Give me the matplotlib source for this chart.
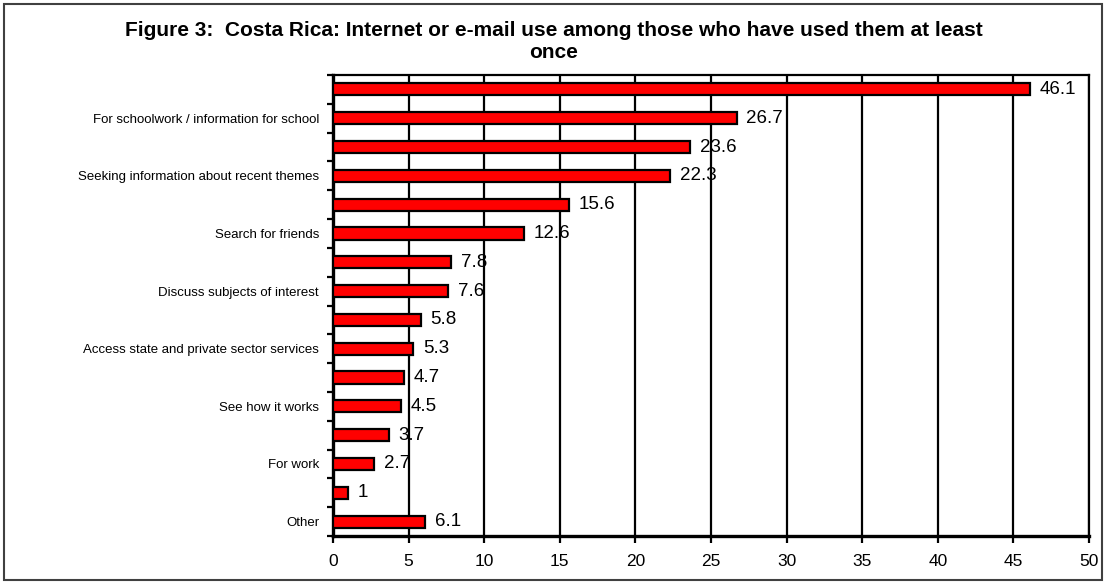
import matplotlib
matplotlib.use("Agg")
import matplotlib.pyplot as plt
from matplotlib.patches import Rectangle

# usage shares (%), top of chart first; only every other category is labelled
labels = [
    "",
    "For schoolwork / information for school",
    "",
    "Seeking information about recent themes",
    "",
    "Search for friends",
    "",
    "Discuss subjects of interest",
    "",
    "Access state and private sector services",
    "",
    "See how it works",
    "",
    "For work",
    "",
    "Other",
]
values = [46.1, 26.7, 23.6, 22.3, 15.6, 12.6, 7.8, 7.6, 5.8, 5.3, 4.7, 4.5,
          3.7, 2.7, 1, 6.1]
value_text = ["46.1", "26.7", "23.6", "22.3", "15.6", "12.6", "7.8", "7.6",
              "5.8", "5.3", "4.7", "4.5", "3.7", "2.7", "1", "6.1"]
xticks = [0, 5, 10, 15, 20, 25, 30, 35, 40, 45, 50]

TITLE = ("Figure 3:  Costa Rica: Internet or e-mail use among those who have "
         "used them at least\nonce")

plt.rcParams.update({
    "font.family": "sans-serif",
    "font.sans-serif": ["Liberation Sans", "DejaVu Sans"],
})

W, H = 1107, 584
fig = plt.figure(figsize=(W / 100, H / 100), dpi=100)
fig.patch.set_facecolor("white")

# outer border of the whole figure
fig.patches.append(Rectangle((4 / W, 4 / H), 1098 / W, 576 / H,
                             transform=fig.transFigure, fill=False,
                             edgecolor="#404040", linewidth=1.5))

# plot area in pixel terms: x 333..1089, y 75..536
ax = fig.add_axes([333 / W, (H - 536) / H, (1089 - 333) / W, (536 - 75) / H])

n = len(values)
ys = list(range(n))
ax.barh(ys, values, height=0.42, color="#ff0000", edgecolor="black",
        linewidth=1.6, zorder=3)
for y, v, t in zip(ys, values, value_text):
    ax.annotate(t, (v, y), xytext=(7, 0), textcoords="offset points",
                ha="left", va="center", fontsize=13.5, color="black", zorder=4)

ax.set_ylim(n - 0.5, -0.5)
ax.set_xlim(0, 50)
ax.set_xticks(xticks)
ax.set_xticklabels([str(t) for t in xticks], fontsize=12.5)
ax.tick_params(axis="x", length=5, width=1.6, direction="out", pad=8)
ax.set_yticks(ys)
ax.set_yticklabels(labels, fontsize=9.5)
ax.tick_params(axis="y", length=0, pad=10)

# category boundary tick marks on the value axis
ax.set_yticks([i - 0.5 for i in range(n + 1)], minor=True)
ax.tick_params(axis="y", which="minor", length=4, width=1.6, direction="out")

ax.set_axisbelow(True)
ax.xaxis.grid(True, color="black", linewidth=1.6)
ax.yaxis.grid(False)
for s in ax.spines.values():
    s.set_color("black")
    s.set_linewidth(1.6)
ax.spines["bottom"].set_linewidth(2.4)
ax.spines["left"].set_linewidth(2.4)

fig.text(554 / W, 1 - 42 / H, TITLE, ha="center", va="center",
         fontsize=15, fontweight="bold", linespacing=1.2)

fig.savefig("out.png", dpi=100)
